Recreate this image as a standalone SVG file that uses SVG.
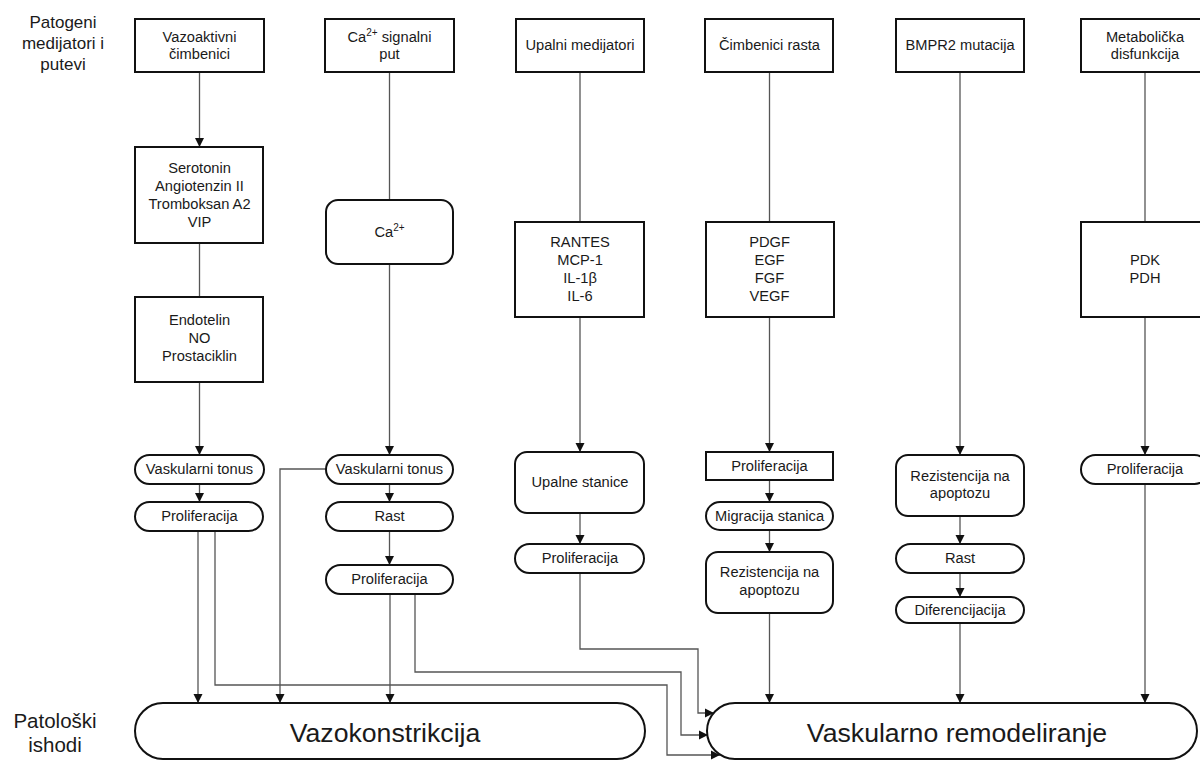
<svg xmlns="http://www.w3.org/2000/svg" width="1200" height="762" viewBox="0 0 1200 762">
<defs>
<style>
.box{fill:#fff;stroke:#111;stroke-width:2}
.t{font-family:"Liberation Sans",Arial,sans-serif;font-size:14.67px;fill:#1a1a1a;text-anchor:middle}
.big{font-size:26.67px}
.lab{font-family:"Liberation Sans",Arial,sans-serif;fill:#1a1a1a;text-anchor:middle}
.c{fill:none;stroke:#555;stroke-width:1.3}
.a{marker-end:url(#ah)}
</style>
<marker id="ah" markerUnits="userSpaceOnUse" markerWidth="10" markerHeight="10" refX="9" refY="5" orient="auto">
<path d="M0,0.5 L9,5 L0,9.5 Z" fill="#111"/>
</marker>
</defs>
<rect width="1200" height="762" fill="#fff"/>

<g id="labels">
<text class="lab" x="63" y="28" font-size="17">Patogeni</text>
<text class="lab" x="63" y="49" font-size="17">medijatori i</text>
<text class="lab" x="63" y="70" font-size="17">putevi</text>
<text class="lab" x="55" y="728" font-size="20.5">Patološki</text>
<text class="lab" x="55" y="752" font-size="20.5">ishodi</text>
</g>

<g id="connectors">
<path class="c a" d="M199.5,72 V147"/>
<path class="c" d="M199.5,243 V297"/>
<path class="c a" d="M199.5,382 V455"/>
<path class="c a" d="M199.5,484 V502"/>
<path class="c a" d="M198,531 V703"/>
<path class="c a" d="M215,531 V685 H667 V755 H720"/>

<path class="c" d="M389.5,72 V200"/>
<path class="c a" d="M389.5,264 V455"/>
<path class="c a" d="M389.5,484 V502"/>
<path class="c a" d="M389.5,531 V565"/>
<path class="c a" d="M390,594 V703"/>
<path class="c a" d="M415,594 V672 H681 V735 H708"/>
<path class="c a" d="M326,469 H280 V703"/>

<path class="c" d="M580,72 V222"/>
<path class="c a" d="M580,317 V452"/>
<path class="c a" d="M580,513 V544"/>
<path class="c a" d="M580,573 V649 H698 V713 H714"/>

<path class="c" d="M769.5,72 V222"/>
<path class="c a" d="M769.5,317 V452"/>
<path class="c a" d="M769.5,480 V502"/>
<path class="c a" d="M769.5,530 V552"/>
<path class="c a" d="M769.5,613 V703"/>

<path class="c a" d="M960,72 V455"/>
<path class="c a" d="M960,516 V544"/>
<path class="c a" d="M960,573 V597"/>
<path class="c a" d="M960,623 V703"/>

<path class="c" d="M1145,72 V222"/>
<path class="c a" d="M1145,317 V455"/>
<path class="c a" d="M1145,484 V703"/>
</g>

<g id="n_vazo"><rect class="box" x="135" y="19" width="129" height="53"/><text class="t" x="199.5" y="42">Vazoaktivni</text><text class="t" x="199.5" y="59">čimbenici</text></g>
<g id="n_sero"><rect class="box" x="135" y="147" width="128" height="96"/><text class="t" x="199.5" y="173">Serotonin</text><text class="t" x="199.5" y="191">Angiotenzin II</text><text class="t" x="199.5" y="209">Tromboksan A2</text><text class="t" x="199.5" y="227">VIP</text></g>
<g id="n_endo"><rect class="box" x="135" y="297" width="128" height="85"/><text class="t" x="199.5" y="325">Endotelin</text><text class="t" x="199.5" y="343">NO</text><text class="t" x="199.5" y="361">Prostaciklin</text></g>
<g id="n_vt1"><rect class="box" x="135" y="455" width="129" height="29" rx="14.5"/><text class="t" x="199.5" y="474">Vaskularni tonus</text></g>
<g id="n_pro1"><rect class="box" x="135" y="502" width="128" height="29" rx="14.5"/><text class="t" x="199.5" y="521">Proliferacija</text></g>

<g id="n_catop"><rect class="box" x="325" y="19" width="129" height="53"/><text class="t" x="389.5" y="42">Ca<tspan dy="-6" font-size="10">2+</tspan><tspan dy="6"> signalni</tspan></text><text class="t" x="389.5" y="59">put</text></g>
<g id="n_ca"><rect class="box" x="326" y="200" width="127" height="64" rx="12"/><text class="t" x="389.5" y="237">Ca<tspan dy="-6" font-size="10">2+</tspan></text></g>
<g id="n_vt2"><rect class="box" x="326" y="455" width="127" height="29" rx="14.5"/><text class="t" x="389.5" y="474">Vaskularni tonus</text></g>
<g id="n_rast2"><rect class="box" x="326" y="502" width="127" height="29" rx="14.5"/><text class="t" x="389.5" y="521">Rast</text></g>
<g id="n_pro2"><rect class="box" x="326" y="565" width="127" height="29" rx="14.5"/><text class="t" x="389.5" y="584">Proliferacija</text></g>

<g id="n_upm"><rect class="box" x="516" y="19" width="128" height="53"/><text class="t" x="580" y="50">Upalni medijatori</text></g>
<g id="n_rantes"><rect class="box" x="515" y="222" width="129" height="95"/><text class="t" x="580" y="247">RANTES</text><text class="t" x="580" y="265">MCP-1</text><text class="t" x="580" y="283">IL-1β</text><text class="t" x="580" y="301">IL-6</text></g>
<g id="n_upst"><rect class="box" x="515" y="452" width="129" height="61" rx="12"/><text class="t" x="580" y="487">Upalne stanice</text></g>
<g id="n_pro3"><rect class="box" x="515" y="544" width="129" height="29" rx="14.5"/><text class="t" x="580" y="563">Proliferacija</text></g>

<g id="n_cim"><rect class="box" x="705" y="19" width="128" height="53"/><text class="t" x="769.5" y="50">Čimbenici rasta</text></g>
<g id="n_pdgf"><rect class="box" x="706" y="222" width="128" height="95"/><text class="t" x="769.5" y="247">PDGF</text><text class="t" x="769.5" y="265">EGF</text><text class="t" x="769.5" y="283">FGF</text><text class="t" x="769.5" y="301">VEGF</text></g>
<g id="n_pro4"><rect class="box" x="706" y="452" width="127" height="28"/><text class="t" x="769.5" y="471">Proliferacija</text></g>
<g id="n_mig"><rect class="box" x="706" y="502" width="127" height="28" rx="14"/><text class="t" x="769.5" y="521">Migracija stanica</text></g>
<g id="n_rez4"><rect class="box" x="706" y="552" width="127" height="61" rx="12"/><text class="t" x="769.5" y="577">Rezistencija na</text><text class="t" x="769.5" y="595">apoptozu</text></g>

<g id="n_bmpr"><rect class="box" x="896" y="19" width="128" height="53"/><text class="t" x="960" y="50">BMPR2 mutacija</text></g>
<g id="n_rez5"><rect class="box" x="896" y="455" width="128" height="61" rx="12"/><text class="t" x="960" y="481">Rezistencija na</text><text class="t" x="960" y="498">apoptozu</text></g>
<g id="n_rast5"><rect class="box" x="896" y="544" width="128" height="29" rx="14.5"/><text class="t" x="960" y="563">Rast</text></g>
<g id="n_dif"><rect class="box" x="896" y="597" width="128" height="26" rx="13"/><text class="t" x="960" y="615">Diferencijacija</text></g>

<g id="n_meta"><rect class="box" x="1081" y="19" width="128" height="53"/><text class="t" x="1145" y="42">Metabolička</text><text class="t" x="1145" y="59">disfunkcija</text></g>
<g id="n_pdk"><rect class="box" x="1081" y="222" width="128" height="95"/><text class="t" x="1145" y="265">PDK</text><text class="t" x="1145" y="283">PDH</text></g>
<g id="n_pro6"><rect class="box" x="1081" y="455" width="128" height="29" rx="14.5"/><text class="t" x="1145" y="474">Proliferacija</text></g>

<g id="n_vazok"><rect class="box" x="135" y="703" width="510" height="56" rx="28"/><text class="t big" x="385" y="742">Vazokonstrikcija</text></g>
<g id="n_remod"><rect class="box" x="707" y="703" width="490" height="56" rx="28"/><text class="t big" x="957" y="742">Vaskularno remodeliranje</text></g>
</svg>
